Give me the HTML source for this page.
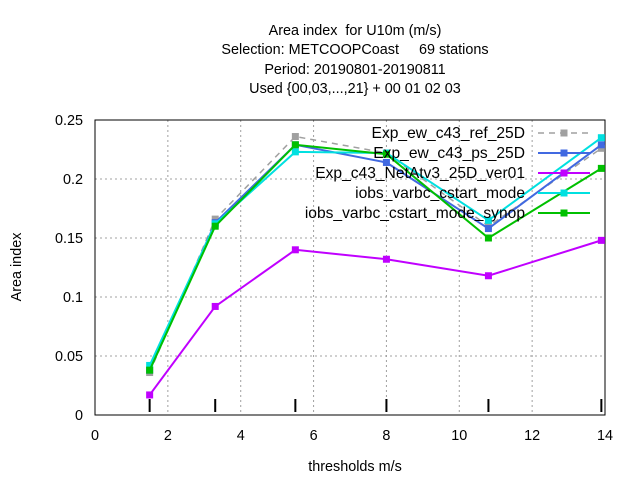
<!DOCTYPE html>
<html><head><meta charset="utf-8"><style>
body{margin:0;background:#fff}
svg{display:block;font-family:"Liberation Sans",sans-serif;font-size:14.4px}
text{white-space:pre}
</style></head><body>
<svg id="chart" width="640" height="480" viewBox="0 0 640 480">
<g text-anchor="middle" fill="#000">
<text x="355" y="35" xml:space="preserve">Area index  for U10m (m/s)</text>
<text x="355" y="54" xml:space="preserve">Selection: METCOOPCoast     69 stations</text>
<text x="355" y="74">Period: 20190801-20190811</text>
<text x="355" y="93">Used {00,03,...,21} + 00 01 02 03</text>
</g>
<g id="grid"></g>
<g id="axes"></g>
<g id="series"></g>
<g id="legend"></g>
<text x="355" y="471" text-anchor="middle">thresholds m/s</text>
<text transform="translate(21,267) rotate(-90)" text-anchor="middle">Area index</text>
</svg>
<script>
const xTicks=[0,2,4,6,8,10,12,14];
const yTicks=[0,0.05,0.1,0.15,0.2,0.25];
const yTickLabels=["0","0.05","0.1","0.15","0.2","0.25"];
const thresholds=[1.5,3.3,5.5,8,10.8,13.9];
const seriesNames=["Exp_ew_c43_ref_25D","Exp_ew_c43_ps_25D","Exp_c43_NetAtv3_25D_ver01","iobs_varbc_cstart_mode","iobs_varbc_cstart_mode_synop"];
const refVals=[0.036,0.166,0.236,0.222,0.160,0.226];
const psVals=[0.038,0.163,0.229,0.214,0.158,0.229];
const netVals=[0.017,0.092,0.140,0.132,0.118,0.148];
const cstartVals=[0.042,0.162,0.223,0.222,0.165,0.235];
const synopVals=[0.038,0.160,0.229,0.221,0.150,0.209];
const allVals=[refVals,psVals,netVals,cstartVals,synopVals];
const colors=["#a0a0a0","#4169e1","#c000ff","#00e0e0","#00c000"];
const dashes=["6,5",null,null,null,null];
const L=95,R=605,T=120,B=415;
const sx=v=>L+(v-0)/14*(R-L);
const sy=v=>B-(v-0)/0.25*(B-T);
const NS="http://www.w3.org/2000/svg";
function mk(tag,attrs,parent){const e=document.createElementNS(NS,tag);for(const k in attrs)e.setAttribute(k,attrs[k]);parent.appendChild(e);return e;}
const grid=document.getElementById('grid'),axes=document.getElementById('axes'),ser=document.getElementById('series'),leg=document.getElementById('legend');
xTicks.forEach((t,i)=>{
 if(t>0&&t<14){const l=mk('line',{x1:sx(t),x2:sx(t),y1:T,y2:B,stroke:'#a0a0a0','stroke-dasharray':'2,3','stroke-width':1},grid);
 
 }
 const tx=mk('text',{x:sx(t),y:B+25,'text-anchor':'middle'},axes);tx.textContent=t;
 
 
});
yTicks.forEach((t,i)=>{
 if(t>0&&t<0.25){const l=mk('line',{x1:L,x2:R,y1:sy(t),y2:sy(t),stroke:'#a0a0a0','stroke-dasharray':'2,3','stroke-width':1},grid);
 
 }
 const tx=mk('text',{x:L-12,y:sy(t)+5,'text-anchor':'end'},axes);tx.textContent=yTickLabels[i];
 
 
});
const fr=mk('rect',{x:L,y:T,width:R-L,height:B-T,fill:'none',stroke:'#000','stroke-width':1},axes);


thresholds.forEach(t=>{const m=mk('line',{x1:sx(t),x2:sx(t),y1:B-16,y2:B-3,stroke:'#000','stroke-width':2},axes);
 
 });
allVals.forEach((vals,s)=>{
 const g=mk('g',{},ser);
 
 
 const pts=vals.map((v,i)=>sx(thresholds[i])+','+sy(v)).join(' ');
 const a={points:pts,fill:'none',stroke:colors[s],'stroke-width':s==0?1.5:2};
 if(dashes[s])a['stroke-dasharray']=dashes[s];
 mk('polyline',a,g);
 vals.forEach((v,i)=>{const p=mk('rect',{x:sx(thresholds[i])-3.5,y:sy(v)-3.5,width:7,height:7,fill:colors[s]},g);
  
  });
 const ly=133+s*20;
 const le=mk('g',{},leg);
 
 
 const tx=mk('text',{x:525,y:ly+5,'text-anchor':'end','font-size':'15.6px'},le);tx.textContent=seriesNames[s];
 const la={x1:538,x2:590,y1:ly,y2:ly,stroke:colors[s],'stroke-width':s==0?1.5:2};
 if(dashes[s])la['stroke-dasharray']=dashes[s];
 mk('line',la,le);
 mk('rect',{x:564-3.5,y:ly-3.5,width:7,height:7,fill:colors[s]},le);
});
</script>
</body></html>
